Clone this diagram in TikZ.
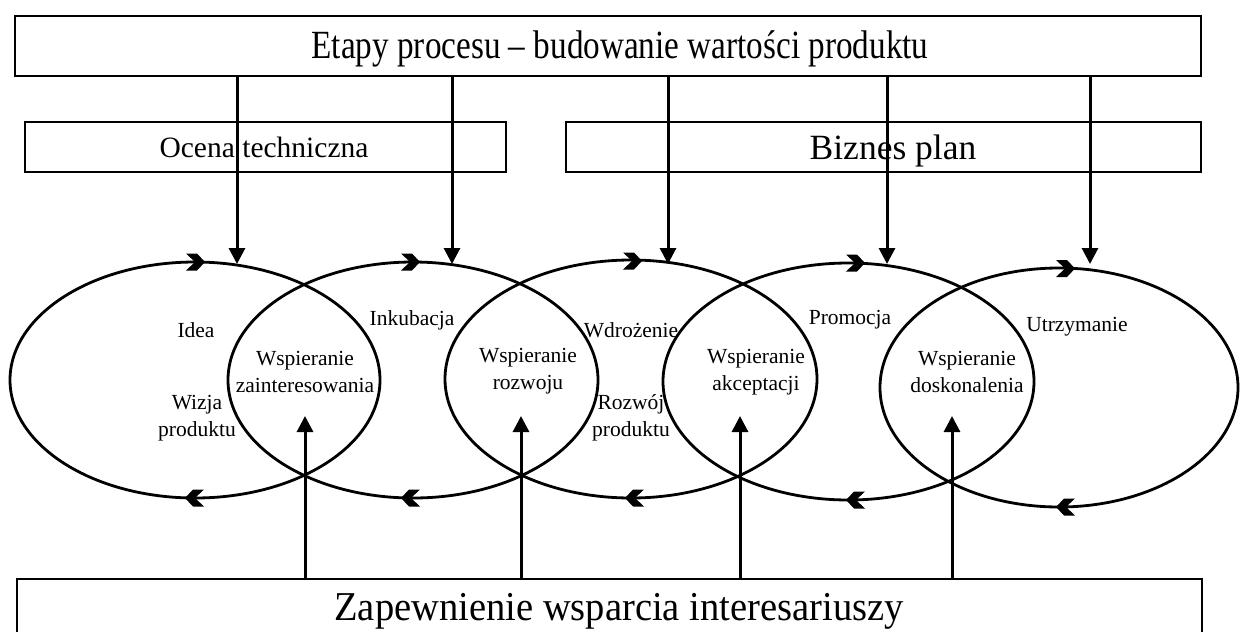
\documentclass[tikz,border=0pt]{standalone}
\usepackage{fontspec}
\setmainfont{Liberation Serif}
\usetikzlibrary{shapes.geometric,arrows.meta}
\begin{document}
\begin{tikzpicture}[x=1pt,y=-1pt,
  box/.style={draw, line width=2pt, inner sep=0pt, minimum height=50pt},
  ell/.style={draw, ellipse, line width=2.8pt, inner sep=0pt},
  lab/.style={font=\fontsize{21.5}{27}\selectfont, align=center, inner sep=0pt},
  conn/.style={line width=3pt, -{Triangle[length=16pt,width=16pt]}},
  chevron/.pic={\fill (0,0) -- (-8,-8.5) -- (-19,-8.5) -- (-10,0) -- (-19,8.5) -- (-8,8.5) -- cycle;}]
\useasboundingbox (0,0) rectangle (1240,632);
% boxes
\node[box, minimum width=1186pt, minimum height=60pt] (top) at (608,46) {};
\node[inner sep=0pt, anchor=base, font=\fontsize{40}{40}\selectfont] (toptxt) at (620,58) {\scalebox{0.83}[1]{Etapy procesu – budowanie wartości produktu}};
\node[box, minimum width=481pt] (ocena) at (265.5,147) {};
\node[inner sep=0pt, anchor=base, font=\fontsize{29.5}{29.5}\selectfont] (ocenatxt) at (264,157) {Ocena techniczna};
\node[box, minimum width=635pt] (biznes) at (883.5,147) {};
\node[inner sep=0pt, anchor=base, font=\fontsize{35.5}{35.5}\selectfont] (biznestxt) at (893,159) {Biznes plan};
\node[box, minimum width=1185pt, minimum height=80pt] (bottom) at (609.5,619) {};
\node[inner sep=0pt, anchor=base, font=\fontsize{41}{41}\selectfont] (bottomtxt) at (619,620) {\scalebox{0.94}[1]{Zapewnienie wsparcia interesariuszy}};
% ellipses
\node[ell, minimum width=370pt, minimum height=236pt] (e1) at (195,380) {};
\node[ell, minimum width=370pt, minimum height=236pt] (e2) at (413,380) {};
\node[ell, minimum width=372pt, minimum height=238pt] (e3) at (631,379) {};
\node[ell, minimum width=371pt, minimum height=237pt] (e4) at (848.5,381.5) {};
\node[ell, minimum width=358pt, minimum height=239pt] (e5) at (1059,387.5) {};
% chevrons on ellipses
\pic at (205,262) {chevron};
\pic at (420,262) {chevron};
\pic at (642,261) {chevron};
\pic at (865,263) {chevron};
\pic at (1075,268.5) {chevron};
\pic[xscale=-1] at (185,498) {chevron};
\pic[xscale=-1] at (401,498) {chevron};
\pic[xscale=-1] at (625,498) {chevron};
\pic[xscale=-1] at (846,500) {chevron};
\pic[xscale=-1] at (1056,507) {chevron};
% labels
\node[lab] (idea) at (196,330) {Idea};
\node[lab] (wizja) at (197,418) {Wizja\\produktu};
\node[lab] (wz) at (305,372) {Wspieranie\\zainteresowania};
\node[lab] (ink) at (412,320) {Inkubacja};
\node[lab] (wr) at (528,371) {Wspieranie\\rozwoju};
\node[lab] (wdr) at (631,330) {Wdrożenie};
\node[lab] (roz) at (631,418) {Rozwój\\produktu};
\node[lab] (wa) at (756,372) {Wspieranie\\akceptacji};
\node[lab] (prom) at (850,320) {Promocja};
\node[lab] (wd) at (967,372) {Wspieranie\\doskonalenia};
\node[lab] (utrz) at (1077,327) {Utrzymanie};
% down arrows
\coordinate (d1) at (237,264);
\coordinate (d2) at (452,264);
\coordinate (d3) at (668,264);
\coordinate (d4) at (887,264);
\coordinate (d5) at (1090,264);
\foreach \i in {1,...,5} \draw[conn] (top.south -| d\i) -- (d\i);
% up arrows
\coordinate (u1) at (305,416);
\coordinate (u2) at (521,416);
\coordinate (u3) at (740,416);
\coordinate (u4) at (952,416);
\foreach \i in {1,...,4} \draw[conn] (bottom.north -| u\i) -- (u\i);
\end{tikzpicture}
\end{document}
